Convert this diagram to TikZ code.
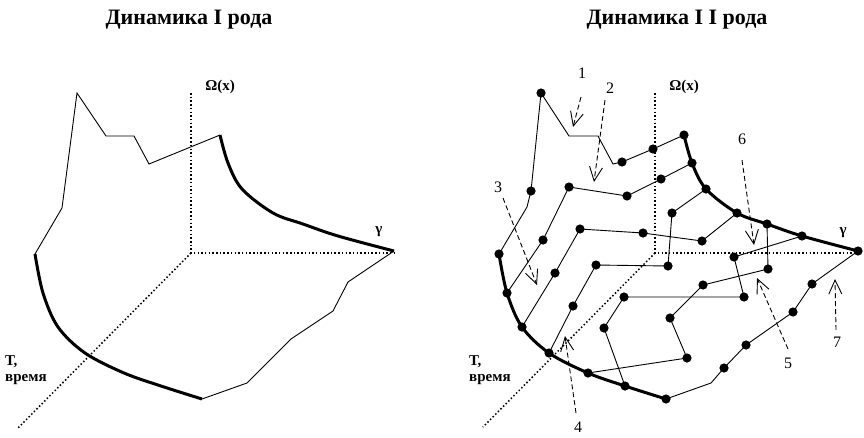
\documentclass[tikz,border=0pt]{standalone}
\usepackage{fontspec}
\setmainfont{Liberation Serif}
\usetikzlibrary{arrows.meta}
\begin{document}
\begin{tikzpicture}[x=1pt,y=-1pt,
  edgeline/.style={line width=0.9pt, line join=miter},
  boldcurve/.style={line width=3pt},
  axisline/.style={line width=1.5pt, dash pattern=on 1.5pt off 2.2pt},
  pointer/.style={line width=0.9pt, dash pattern=on 5pt off 3pt, -{Straight Barb[length=14pt,width=13pt,line width=0.9pt]}},
  title/.style={font=\fontsize{22}{26}\selectfont\bfseries},
  axlabel/.style={font=\fontsize{15}{17}\selectfont\bfseries, inner sep=0pt},
  num/.style={font=\fontsize{16}{18}\selectfont, inner sep=0pt}]
\useasboundingbox (0,0) rectangle (864,437);

% ---------------- titles
\node[title] (tl) at (189,20) {Динамика I рода};
\node[title] (tr) at (677,20) {Динамика I I рода};

% ---------------- left diagram
\coordinate (LO) at (191,253);
\coordinate (LOm) at (191,93);
\coordinate (LG) at (395,253);
\coordinate (LT) at (18,428);
\draw[axisline] (LOm) -- (LO) -- (LG);
\draw[axisline] (LO) -- (LT);

\coordinate (q0) at (35,254);
\coordinate (q1) at (62,208);
\coordinate (q2) at (77,93);
\coordinate (q3) at (106,136);
\coordinate (q4) at (134,136);
\coordinate (q5) at (149,164);
\coordinate (q6) at (220,135);
\coordinate (qu1) at (228,163);
\coordinate (qu2) at (242,189);
\coordinate (qu3) at (273,213);
\coordinate (qu4) at (303,224);
\coordinate (qu5) at (338,236);
\coordinate (qg) at (394,251);
\coordinate (qr1) at (348,282);
\coordinate (qr2) at (333,311);
\coordinate (qr3) at (291,339);
\coordinate (qr4) at (247,383);
\coordinate (qe) at (202,399);
\coordinate (ql1) at (43,293);
\coordinate (ql2) at (58,327);
\coordinate (ql3) at (85,353);
\coordinate (ql4) at (124,373);
\coordinate (ql5) at (161,386);

\draw[edgeline] (q0) -- (q1) -- (q2) -- (q3) -- (q4) -- (q5) -- (q6);
\draw[edgeline] (qg) -- (qr1) -- (qr2) -- (qr3) -- (qr4) -- (qe);
\draw[boldcurve] plot[smooth, tension=0.55] coordinates {(q6) (qu1) (qu2) (qu3) (qu4) (qu5) (qg)};
\draw[boldcurve] plot[smooth, tension=0.55] coordinates {(q0) (ql1) (ql2) (ql3) (ql4) (ql5) (qe)};

\node[axlabel] (omL) at (220,87) {Ω(x)};
\node[axlabel] (gaL) at (379,232) {γ};
\node[axlabel, anchor=west] (TL) at (5,362) {Т,};
\node[axlabel, anchor=west] (vL) at (5,380) {время};

% ---------------- right diagram
\coordinate (RO) at (655,253);
\coordinate (ROm) at (655,93);
\coordinate (RG) at (858,253);
\coordinate (RT) at (483,427);
\draw[axisline] (ROm) -- (RO) -- (RG);
\draw[axisline] (RO) -- (RT);

\coordinate (p0) at (499,254);
\coordinate (p1) at (527,207);
\coordinate (p2) at (531,191);
\coordinate (p3) at (541,93);
\coordinate (p4) at (569,136);
\coordinate (p5) at (598,136);
\coordinate (p6) at (613,164);
\coordinate (p7) at (622,162);
\coordinate (p8) at (653,149);
\coordinate (p9) at (684,135);
\coordinate (t1) at (692,163);
\coordinate (t2) at (706,189);
\coordinate (t3) at (737,213);
\coordinate (t4) at (767,224);
\coordinate (t5) at (802,236);
\coordinate (g) at (858,251);
\coordinate (l1) at (507,293);
\coordinate (l2) at (522,327);
\coordinate (l3) at (549,353);
\coordinate (l4) at (588,373);
\coordinate (l5) at (625,386);
\coordinate (l6) at (666,399);
\coordinate (b1) at (711,383);
\coordinate (b2) at (724,368);
\coordinate (b3) at (746,345);
\coordinate (b5) at (793,312);
\coordinate (b6) at (812,284);
\coordinate (a1) at (543,240);
\coordinate (a2) at (569,187);
\coordinate (a3) at (627,196);
\coordinate (a4) at (661,179);
\coordinate (c1) at (555,273);
\coordinate (c2) at (580,229);
\coordinate (c3) at (643,233);
\coordinate (c4) at (702,241);
\coordinate (d1) at (573,306);
\coordinate (d2) at (596,265);
\coordinate (d3) at (668,266);
\coordinate (d4) at (672,213);
\coordinate (e1) at (604,328);
\coordinate (e2) at (624,297);
\coordinate (e3) at (744,297);
\coordinate (e4) at (734,257);
\coordinate (f1) at (687,358);
\coordinate (f2) at (670,318);
\coordinate (f3) at (703,285);
\coordinate (f4) at (768,269);

\draw[edgeline] (p0) -- (p1) -- (p2) -- (p3) -- (p4) -- (p5) -- (p6) -- (p7) -- (p8) -- (p9);
\draw[edgeline] (l6) -- (b1) -- (b2) -- (b3) -- (b5) -- (b6) -- (g);
\draw[edgeline] (l1) -- (a1) -- (a2) -- (a3) -- (a4) -- (t1);
\draw[edgeline] (l2) -- (c1) -- (c2) -- (c3) -- (c4) -- (t3);
\draw[edgeline] (l3) -- (d1) -- (d2) -- (d3) -- (d4) -- (t2);
\draw[edgeline] (l5) -- (e1) -- (e2) -- (e3) -- (e4) -- (t5);
\draw[edgeline] (l4) -- (f1) -- (f2) -- (f3) -- (f4) -- (t4);
\draw[boldcurve] plot[smooth, tension=0.55] coordinates {(p9) (t1) (t2) (t3) (t4) (t5) (g)};
\draw[boldcurve] plot[smooth, tension=0.55] coordinates {(p0) (l1) (l2) (l3) (l4) (l5) (l6)};

\foreach \n in {p0,p2,p3,p7,p8,p9,t1,t2,t3,t4,t5,g,l1,l2,l3,l4,l5,l6,b2,b3,b5,b6,
                a1,a2,a3,a4,c1,c2,c3,c4,d1,d2,d3,d4,e1,e2,e3,e4,f1,f2,f3,f4}
  \fill (\n) circle[radius=4.6pt];

\node[axlabel] (omR) at (684,87) {Ω(x)};
\node[axlabel] (gaR) at (843,233) {γ};
\node[axlabel, anchor=west] (TR) at (469,362) {Т,};
\node[axlabel, anchor=west] (vR) at (469,380) {время};

% numbered pointers
\node[num] (n1) at (582,73) {1};
\node[num] (n2) at (610,88) {2};
\node[num] (n3) at (498,187) {3};
\node[num] (n4) at (578,427) {4};
\node[num] (n5) at (788,363) {5};
\node[num] (n6) at (742,139) {6};
\node[num] (n7) at (837,342) {7};
\coordinate (s1) at (581,97);  \coordinate (h1) at (573,127);
\coordinate (s2) at (605,100); \coordinate (h2) at (594,182);
\coordinate (s3) at (503,198); \coordinate (h3) at (537,285);
\coordinate (s4) at (576,413); \coordinate (h4) at (565,336);
\coordinate (s5) at (788,349); \coordinate (h5) at (757,278);
\coordinate (s6) at (742,160); \coordinate (h6) at (754,245);
\coordinate (s7) at (836,330); \coordinate (h7) at (835,279);
\foreach \i in {1,...,7} \draw[pointer] (s\i) -- (h\i);
\end{tikzpicture}
\end{document}
